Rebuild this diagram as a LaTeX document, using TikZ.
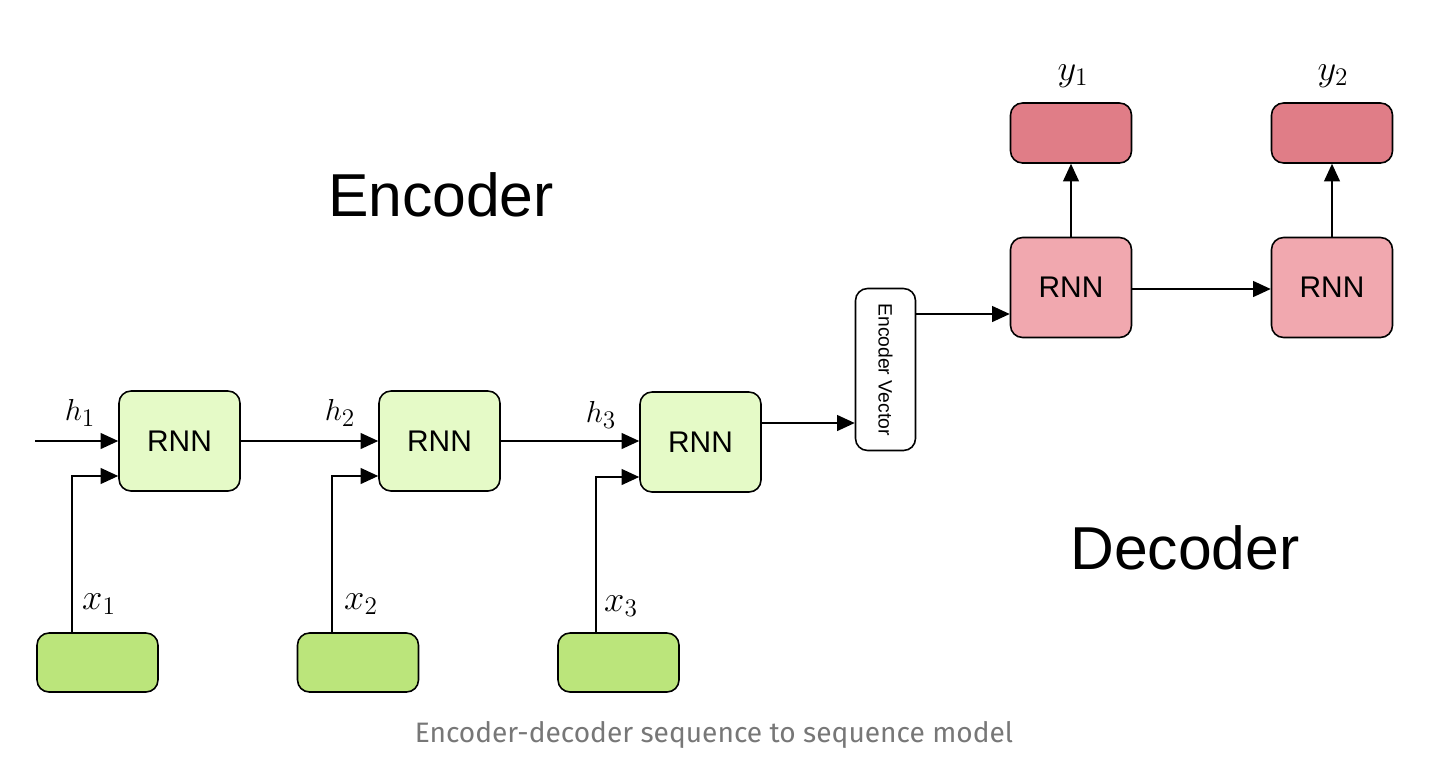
\documentclass[tikz,border=0pt]{standalone}
\usepackage{fontspec}
\setmainfont{Liberation Sans}
\newfontfamily\capfont{Fira Sans}
\usetikzlibrary{arrows.meta}
\definecolor{encfill}{HTML}{E5FAC7}
\definecolor{infill}{HTML}{BBE57B}
\definecolor{decfill}{HTML}{F1A8AF}
\definecolor{outfill}{HTML}{E07D87}
\definecolor{capgray}{HTML}{777777}
\tikzset{
  box/.style={draw=black, line width=0.9pt, rounded corners=0.24cm, inner sep=0pt},
  rnnE/.style={box, fill=encfill, minimum width=2.42cm, minimum height=2cm, font=\fontsize{17}{19}\selectfont},
  rnnD/.style={box, fill=decfill, minimum width=2.42cm, minimum height=2cm, font=\fontsize{17}{19}\selectfont},
  inbox/.style={box, fill=infill, minimum width=2.42cm, minimum height=1.18cm},
  outbox/.style={box, fill=outfill, minimum width=2.42cm, minimum height=1.2cm},
  evbox/.style={box, fill=white, minimum width=1.2cm, minimum height=3.24cm},
  arr/.style={line width=0.9pt, -{Triangle[length=10pt,width=9pt]}},
  hlab/.style={font=\fontsize{19}{21}\selectfont},
  xlab/.style={font=\fontsize{22}{24}\selectfont},
  big/.style={font=\fontsize{34.5}{38}\selectfont}
}
\begin{document}
\begin{tikzpicture}[x=0.02cm, y=-0.02cm]
\useasboundingbox (0,0) rectangle (1432,768);
% encoder RNNs
\node[rnnE] (e1) at (179.5,441) {RNN};
\node[rnnE] (e2) at (439.5,441) {RNN};
\node[rnnE] (e3) at (700.5,442) {RNN};
% inputs
\node[inbox] (i1) at (97.5,662.5) {};
\node[inbox] (i2) at (358,662.5) {};
\node[inbox] (i3) at (618.5,662.5) {};
% encoder vector
\node[evbox] (ev) at (885.5,369.5) {};
\node[rotate=-90, font=\fontsize{11}{13}\selectfont] (evt) at (ev.center) {Encoder Vector};
% decoder
\node[rnnD] (d1) at (1071,287.5) {RNN};
\node[rnnD] (d2) at (1332,287.5) {RNN};
\node[outbox] (o1) at (1071,133) {};
\node[outbox] (o2) at (1332,133) {};
% connectors
\coordinate (hin) at (35,441);
\draw[arr] (hin) -- (e1.west);
\draw[arr] (e1.east) -- (e2.west);
\draw[arr] (e2.east) -- (e3.west |- e2.east);
\draw[arr] ([xshift=-0.51cm]i1.north) |- ([yshift=-0.7cm]e1.west);
\draw[arr] ([xshift=-0.52cm]i2.north) |- ([yshift=-0.7cm]e2.west);
\draw[arr] ([xshift=-0.45cm]i3.north) |- ([yshift=-0.7cm]e3.west);
\draw[arr] ([yshift=0.38cm]e3.east) -- ([yshift=0.38cm]e3.east -| ev.west);
\draw[arr] ([yshift=-0.53cm]d1.west -| ev.east) -- ([yshift=-0.53cm]d1.west);
\draw[arr] ([yshift=-0.03cm]d1.east) -- ([yshift=-0.03cm]d2.west);
\draw[arr] (d1.north) -- (o1.south);
\draw[arr] (d2.north) -- (o2.south);
% labels
\node[hlab] (h1) at (80,413) {$h_1$};
\node[hlab] (h2) at (340,413) {$h_2$};
\node[hlab] (h3) at (601,415) {$h_3$};
\node[xlab] (x1) at (99,604) {$x_1$};
\node[xlab] (x2) at (361,604) {$x_2$};
\node[xlab] (x3) at (621,606) {$x_3$};
\node[xlab] (y1) at (1073,76) {$y_1$};
\node[xlab] (y2) at (1333,76) {$y_2$};
\node[big] (enc) at (441,195) {Encoder};
\node[big] (dec) at (1185,548) {Decoder};
\node[font=\capfont\fontsize{16}{19}\selectfont, text=capgray] (cap) at (714,735) {Encoder-decoder sequence to sequence model};
\end{tikzpicture}
\end{document}
